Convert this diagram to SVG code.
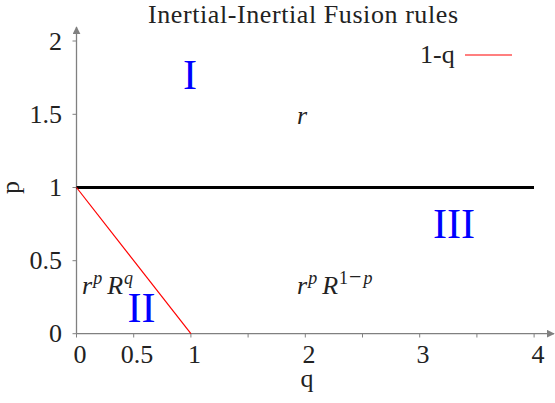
<svg xmlns="http://www.w3.org/2000/svg" width="555" height="403" viewBox="0 0 555 403">
<defs>
<style>
text{font-family:"Liberation Serif","DejaVu Serif",serif;fill:#222;}
.lbl{font-size:26px;}
.ylab{font-size:26px;text-anchor:end;}
.xlab{font-size:26px;text-anchor:middle;}
.roman{font-size:42px;fill:#0000ff;text-anchor:middle;}
.it{font-style:italic;}
.sup{font-size:18px;}
.axis{stroke:#808080;stroke-width:1.3;fill:none;}
.tick{stroke:#808080;stroke-width:1;}
</style>
<marker id="arr" viewBox="0 0 10 10" refX="9" refY="5" markerWidth="8" markerHeight="8" markerUnits="userSpaceOnUse" orient="auto">
<path d="M0,0 L10,5 L0,10 z" fill="#808080"/>
</marker>
</defs>
<rect width="555" height="403" fill="#ffffff"/>
<text class="lbl" x="148" y="22.5" textLength="310">Inertial-Inertial Fusion rules</text>
<g id="axes">
<line class="axis" x1="76.5" y1="333.7" x2="554" y2="333.7" marker-end="url(#arr)"/>
<line class="axis" x1="76.5" y1="333.7" x2="76.5" y2="27" marker-end="url(#arr)"/>
<g class="tick">
<line x1="72.5" y1="41" x2="76.5" y2="41"/>
<line x1="72.5" y1="114.3" x2="76.5" y2="114.3"/>
<line x1="72.5" y1="187.5" x2="76.5" y2="187.5"/>
<line x1="72.5" y1="260.7" x2="76.5" y2="260.7"/>
<line x1="72.5" y1="333.7" x2="76.5" y2="333.7"/>
<line x1="76.5" y1="333.7" x2="76.5" y2="337.5"/>
<line x1="133.7" y1="333.7" x2="133.7" y2="337.5"/>
<line x1="190.9" y1="333.7" x2="190.9" y2="337.5"/>
<line x1="248.1" y1="333.7" x2="248.1" y2="337.5"/>
<line x1="305.3" y1="333.7" x2="305.3" y2="337.5"/>
<line x1="362.5" y1="333.7" x2="362.5" y2="337.5"/>
<line x1="419.7" y1="333.7" x2="419.7" y2="337.5"/>
<line x1="476.9" y1="333.7" x2="476.9" y2="337.5"/>
<line x1="534.1" y1="333.7" x2="534.1" y2="337.5"/>
</g>
<text class="ylab" x="62" y="49.5">2</text>
<text class="ylab" x="62" y="122.5">1.5</text>
<text class="ylab" x="62" y="195.5">1</text>
<text class="ylab" x="62" y="268.7">0.5</text>
<text class="ylab" x="62" y="341.7">0</text>
<text class="xlab" x="80" y="363">0</text>
<text class="xlab" x="137" y="363">0.5</text>
<text class="xlab" x="194.5" y="363">1</text>
<text class="xlab" x="309" y="363">2</text>
<text class="xlab" x="423" y="363">3</text>
<text class="xlab" x="538" y="363">4</text>
<text class="xlab" x="307" y="387">q</text>
<text class="xlab" transform="translate(19,187.5) rotate(-90)">p</text>
</g>
<g id="connectors">
<line id="boundary" x1="76.5" y1="187.5" x2="534" y2="187.5" stroke="#000" stroke-width="3"/>
<line id="line-1-q" x1="76.5" y1="187.5" x2="190.9" y2="333.7" stroke="#ff0000" stroke-width="1.2"/>
</g>
<g id="legend">
<text class="lbl" x="420" y="63.3">1-q</text>
<line x1="465" y1="55" x2="512" y2="55" stroke="#ff0000" stroke-width="1.2"/>
</g>
<g id="region-I">
<text class="roman" x="190" y="89">I</text>
<text class="lbl it" x="297" y="124">r</text>
</g>
<g id="region-II">
<text class="roman" x="141.5" y="321.7">II</text>
<text class="lbl" x="82" y="294"><tspan class="it">r</tspan><tspan class="sup it" dx="1" dy="-10">p</tspan><tspan class="it" dx="5" dy="10">R</tspan><tspan class="sup it" dx="1" dy="-10">q</tspan></text>
</g>
<g id="region-III">
<text class="roman" x="454" y="237.7">III</text>
<text class="lbl" x="297" y="294"><tspan class="it">r</tspan><tspan class="sup it" dx="1" dy="-10">p</tspan><tspan class="it" dx="5" dy="10">R</tspan><tspan class="sup" dx="1" dy="-10">1</tspan><tspan font-size="22" dx="1">−</tspan><tspan class="sup it" dx="2">p</tspan></text>
</g>
</svg>
